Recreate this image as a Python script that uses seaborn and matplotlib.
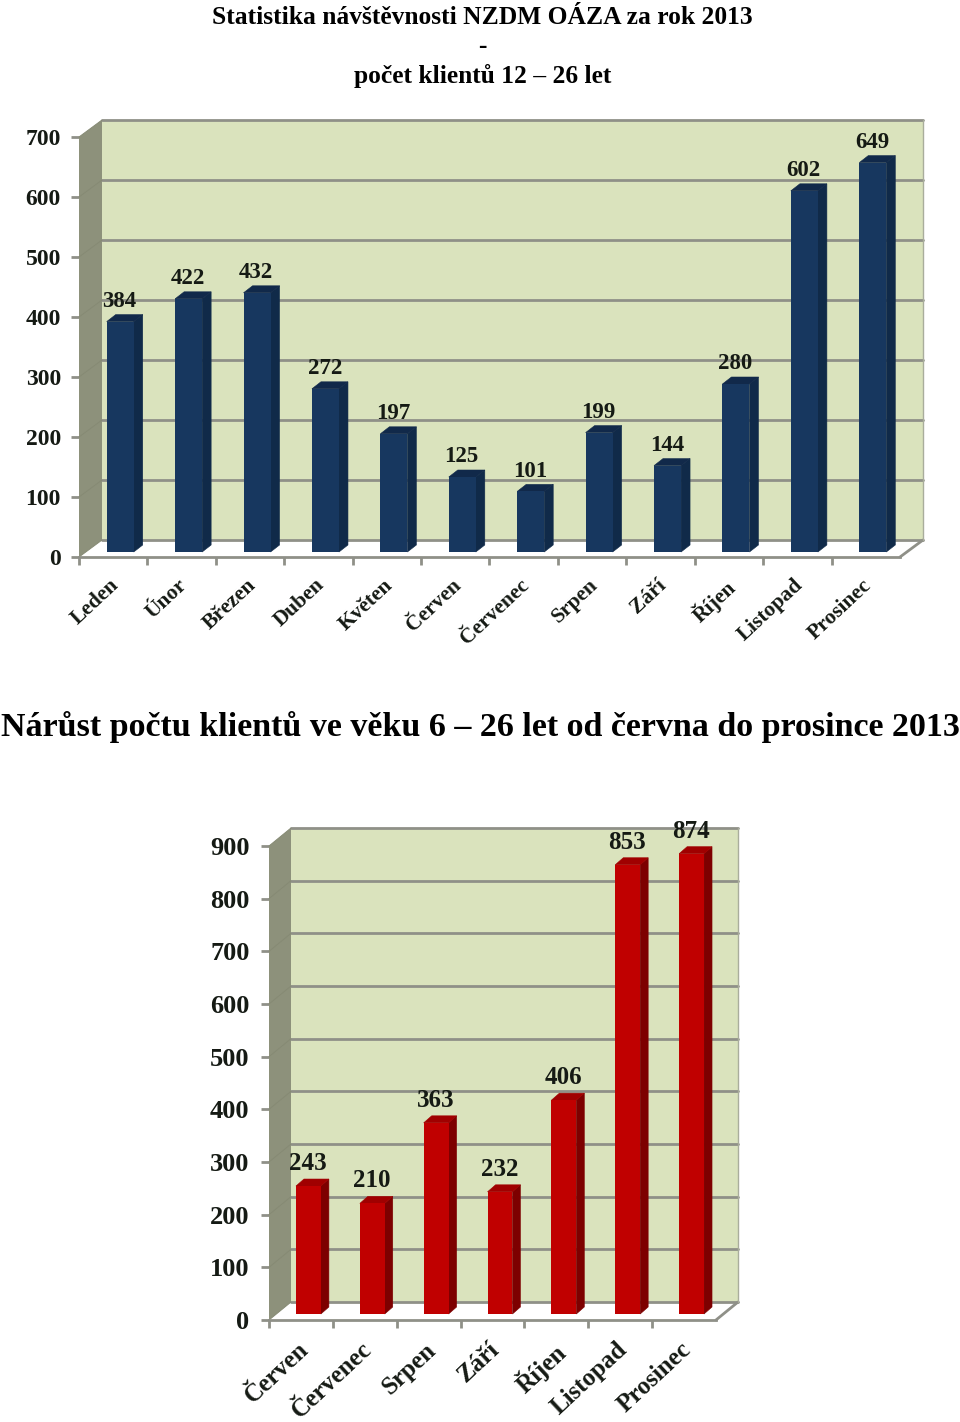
import matplotlib
matplotlib.use('Agg')
import matplotlib.pyplot as plt
import matplotlib.transforms as mtrans
import seaborn as sns

months_top = ['Leden', 'Únor', 'Březen', 'Duben', 'Květen', 'Červen', 'Červenec',
              'Srpen', 'Září', 'Říjen', 'Listopad', 'Prosinec']
clients_top = [384, 422, 432, 272, 197, 125, 101, 199, 144, 280, 602, 649]
yticks_top = [0, 100, 200, 300, 400, 500, 600, 700]

months_bottom = ['Červen', 'Červenec', 'Srpen', 'Září', 'Říjen', 'Listopad', 'Prosinec']
growth_bottom = [243, 210, 363, 232, 406, 853, 874]
yticks_bottom = [0, 100, 200, 300, 400, 500, 600, 700, 800, 900]

W, H = 960, 1422
WALL = '#dae3bd'
SIDE = '#8d917b'
GRID = '#8f9088'

sns.set_theme(style='white')
plt.rcParams['font.family'] = ['Liberation Serif', 'DejaVu Sans']
plt.rcParams['font.weight'] = 'bold'

fig = plt.figure(figsize=(W / 100, H / 100), dpi=100, facecolor='white')


def draw_chart(left, right, top, bottom, months, values, yticks, colors, fs, yfs, xfs, shift, depth, bar_depth, width, ypad, lab_off, xshift):
    ax = fig.add_axes([left / W, 1 - bottom / H, (right - left) / W, (bottom - top) / H])
    ymax = yticks[-1]
    n = len(months)
    px_x = n / (right - left)
    px_y = ymax / (bottom - top)

    sns.barplot(x=months, y=values, color=colors[0], saturation=1, width=width,
                linewidth=0, ax=ax, zorder=4)
    ax.set_xlim(-0.5, n - 0.5)
    ax.set_ylim(0, ymax)
    ax.patch.set_alpha(0)
    sns.despine(ax=ax, left=True, right=True, top=True, bottom=False)
    ax.spines['bottom'].set_color(GRID)
    ax.spines['bottom'].set_linewidth(2)

    # wall and floor depth, in data units
    dx = depth[0] * px_x
    dy = depth[1] * px_y
    x0 = -0.5
    x1 = n - 0.5
    ax.fill([x0 + dx, x1 + dx, x1 + dx, x0 + dx], [dy, dy, ymax + dy, ymax + dy],
            color=WALL, lw=0, clip_on=False, zorder=0)
    ax.fill([x0, x0 + dx, x0 + dx, x0], [0, dy, ymax + dy, ymax], color=SIDE, lw=0, clip_on=False, zorder=1)
    for t in yticks:
        ax.plot([x0 + dx, x1 + dx], [t + dy, t + dy], color=GRID, lw=2, clip_on=False, zorder=2)
        ax.plot([x0, x0 + dx], [t, t + dy], color='#868a74', lw=0.7, clip_on=False, zorder=2)
    ax.plot([x1, x1 + dx], [0, dy], color=GRID, lw=2, clip_on=False, zorder=2)
    ax.plot([x1 + dx, x1 + dx], [dy, ymax + dy], color='#a9ad9c', lw=1, clip_on=False, zorder=2)

    # bars sit a little in front of the wall, moved by pixels
    bar_trans = ax.transData + mtrans.ScaledTranslation(shift[0] / 100, shift[1] / 100, fig.dpi_scale_trans)
    bdx = bar_depth[0] * px_x
    bdy = bar_depth[1] * px_y
    for patch, val in zip(ax.patches, values):
        patch.set_transform(bar_trans)
        patch.set_clip_on(False)
        a = patch.get_x()
        b = a + patch.get_width()
        ax.fill([b, b + bdx, b + bdx, b], [0, bdy, val + bdy, val], color=colors[1], lw=0.4,
                transform=bar_trans, clip_on=False, zorder=3.9)
        ax.fill([a, a + bdx, b + bdx, b], [val, val + bdy, val + bdy, val], color=colors[2], lw=0.4,
                transform=bar_trans, clip_on=False, zorder=3.9)
        ax.annotate(str(val), xy=((a + b) / 2, val), xycoords=bar_trans, xytext=(-0.5, lab_off),
                    textcoords='offset points', ha='center', va='bottom', fontsize=fs,
                    fontweight='bold', color='#151a14', zorder=6, annotation_clip=False)

    ax.set_xlabel('')
    ax.set_ylabel('')
    ax.set_yticks(yticks)
    ax.set_yticklabels([str(t) for t in yticks], fontsize=yfs, fontweight='bold', color='#151a14')
    ax.tick_params(axis='y', length=6, width=2, color=GRID, left=True, pad=ypad)
    ax.set_xticks([i - 0.5 for i in range(n)], minor=True)
    ax.tick_params(axis='x', which='minor', length=6, width=2, color=GRID, bottom=True)
    ax.set_xticks(range(n))
    ax.set_xticklabels(months, fontsize=xfs, fontweight='bold', color='#151a14', rotation=43,
                       ha='right', va='top', rotation_mode='anchor')
    ax.tick_params(axis='x', which='major', length=0, pad=13)
    label_shift = mtrans.ScaledTranslation(xshift / 100, 0, fig.dpi_scale_trans)
    for lab in ax.get_xticklabels():
        lab.set_transform(lab.get_transform() + label_shift)
    return ax


draw_chart(79, 900, 137, 557, months_top, clients_top, yticks_top,
           ('#17375f', '#102a49', '#11294a'), 16.5, 17, 15.5, (7, 5), (23, 17), (9, 7), 0.395, 7, 7, -4)
draw_chart(269, 716, 846, 1320, months_bottom, growth_bottom, yticks_bottom,
           ('#c00000', '#7d0000', '#a00000'), 18, 19, 18, (7.5, 6), (22, 18), (8, 7), 0.39, 8, 8, -4)

for txt, y in [('Statistika návštěvnosti NZDM OÁZA za rok 2013', 17), ('-', 47),
               ('počet klientů 12 – 26 let', 76)]:
    fig.text(482.5 / W, 1 - y / H, txt, fontsize=18.4, fontweight='bold', color='black',
             ha='center', va='center')
fig.text(480 / W, 1 - 727 / H, 'Nárůst počtu klientů ve věku 6 – 26 let od června do prosince 2013',
         fontsize=24.5, fontweight='bold', color='black', ha='center', va='center')

fig.savefig('out.png', dpi=100, facecolor='white')
